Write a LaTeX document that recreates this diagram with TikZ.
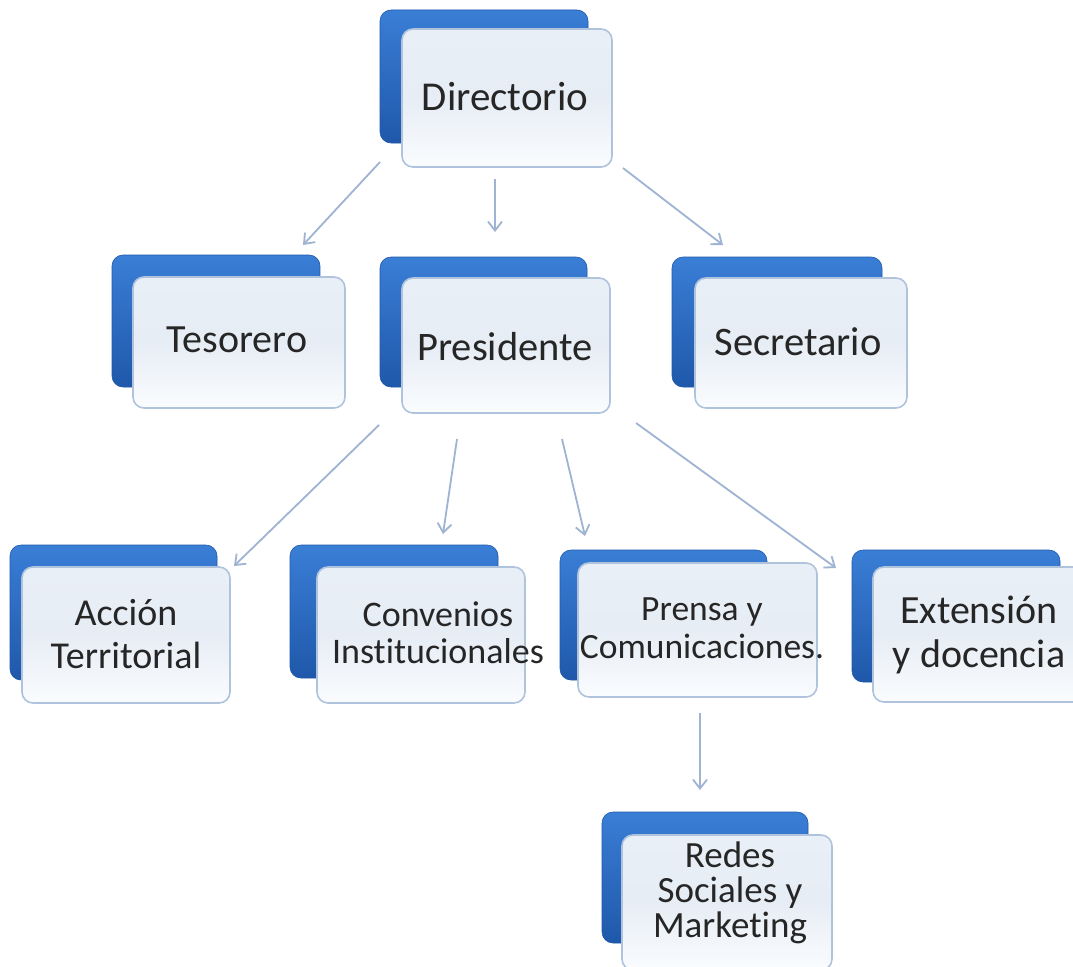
\documentclass[tikz,border=0pt]{standalone}
\usepackage{fontspec}
\setmainfont{Carlito}[Ligatures={NoCommon}]
\usetikzlibrary{arrows.meta}
\definecolor{bluetop}{HTML}{3A7ED6}
\definecolor{bluebot}{HTML}{1F58AA}
\definecolor{fronttop}{HTML}{E9EFF7}
\definecolor{frontmid}{HTML}{E7EDF5}
\definecolor{frontbot}{HTML}{FAFCFE}
\definecolor{frontedge}{HTML}{AFC3DD}
\definecolor{arrowcol}{HTML}{9FB3D2}
\definecolor{txt}{HTML}{262626}
\tikzset{
  backbox/.style={rectangle, rounded corners=11pt, draw=bluebot, line width=0.6pt,
    top color=bluetop, bottom color=bluebot, inner sep=0pt},
  frontbox/.style={rectangle, rounded corners=11pt, draw=frontedge, line width=1.6pt,
    top color=fronttop, bottom color=frontbot, middle color=frontmid, inner sep=0pt},
  lbl/.style={text=txt, align=center, inner sep=0pt, anchor=base},
  conn/.style={draw=arrowcol, line width=1.8pt, -{Straight Barb[length=9pt,width=14pt,line width=1.8pt]}}
}
\begin{document}
\begin{tikzpicture}[x=1pt,y=-1pt]
\clip (0,0) rectangle (1073,966);
\useasboundingbox (0,0) rectangle (1073,966);
\fill[white] (0,0) rectangle (1073,966);

% Directorio
\node[backbox, minimum width=208pt, minimum height=133pt] (dirB) at (484,76.5) {};
\node[frontbox, minimum width=210pt, minimum height=138pt] (dirF) at (507,98) {};
\node[lbl, font=\fontsize{41}{45}\selectfont] (dirT) at (505,110) {Directorio};

% Tesorero
\node[backbox, minimum width=208pt, minimum height=132pt] (tesB) at (216,321) {};
\node[frontbox, minimum width=212pt, minimum height=131pt] (tesF) at (239,342.5) {};
\node[lbl, font=\fontsize{40}{44}\selectfont] (tesT) at (237,352) {Tesorero};

% Presidente
\node[backbox, minimum width=207pt, minimum height=130pt] (preB) at (483.5,322) {};
\node[frontbox, minimum width=208pt, minimum height=135pt] (preF) at (506,345.5) {};
\node[lbl, font=\fontsize{40.5}{44}\selectfont] (preT) at (505,360) {Presidente};

% Secretario
\node[backbox, minimum width=210pt, minimum height=130pt] (secB) at (777,322) {};
\node[frontbox, minimum width=212pt, minimum height=130pt] (secF) at (801,343) {};
\node[lbl, font=\fontsize{40.5}{44}\selectfont] (secT) at (798,355) {Secretario};

% Accion Territorial
\node[backbox, minimum width=207pt, minimum height=135pt] (accB) at (113.5,612.5) {};
\node[frontbox, minimum width=208pt, minimum height=136pt] (accF) at (126,635) {};
\node[lbl, font=\fontsize{38}{43}\selectfont] (accT) at (126,668) {Acción\\Territorial};

% Convenios
\node[backbox, minimum width=208pt, minimum height=133pt] (conB) at (394,611.5) {};
\node[frontbox, minimum width=208pt, minimum height=136pt] (conF) at (421,635) {};
\node[lbl, font=\fontsize{36}{37}\selectfont] (conT) at (438,663) {Convenios\\Institucionales};

% Prensa
\node[backbox, minimum width=207pt, minimum height=130pt] (prnB) at (663.5,615) {};
\node[frontbox, minimum width=239pt, minimum height=134pt] (prnF) at (697.5,630) {};
\node[lbl, font=\fontsize{35.5}{38}\selectfont] (prnT) at (702,658) {Prensa y\\Comunicaciones.};

% Extension
\node[backbox, minimum width=208pt, minimum height=132pt] (extB) at (956,616) {};
\node[frontbox, minimum width=212pt, minimum height=135pt] (extF) at (979,634.5) {};
\node[lbl, font=\fontsize{40}{44}\selectfont] (extT) at (979,667) {Extensión\\y docencia};

% Redes
\node[backbox, minimum width=206pt, minimum height=131pt] (redB) at (705,877.5) {};
\node[frontbox, minimum width=210pt, minimum height=135pt] (redF) at (727,902.5) {};
\node[lbl, font=\fontsize{37}{35}\selectfont] (redT) at (730,937) {Redes\\Sociales y\\Marketing};

% connector end points
\coordinate (a1s) at (380,162); \coordinate (a1e) at (303,245);
\coordinate (a2s) at (495,179); \coordinate (a2e) at (495,232);
\coordinate (a3s) at (623,168); \coordinate (a3e) at (723,245);
\coordinate (b1s) at (379,425); \coordinate (b1e) at (234,566);
\coordinate (b2s) at (457,439); \coordinate (b2e) at (443,534);
\coordinate (b3s) at (562,439); \coordinate (b3e) at (585,536);
\coordinate (b4s) at (636,423); \coordinate (b4e) at (836,568);
\coordinate (c1s) at (700,713); \coordinate (c1e) at (700,790);

\draw[conn] (a1s) -- (a1e);
\draw[conn] (a2s) -- (a2e);
\draw[conn] (a3s) -- (a3e);
\draw[conn] (b1s) -- (b1e);
\draw[conn] (b2s) -- (b2e);
\draw[conn] (b3s) -- (b3e);
\draw[conn] (b4s) -- (b4e);
\draw[conn] (c1s) -- (c1e);
\end{tikzpicture}
\end{document}
